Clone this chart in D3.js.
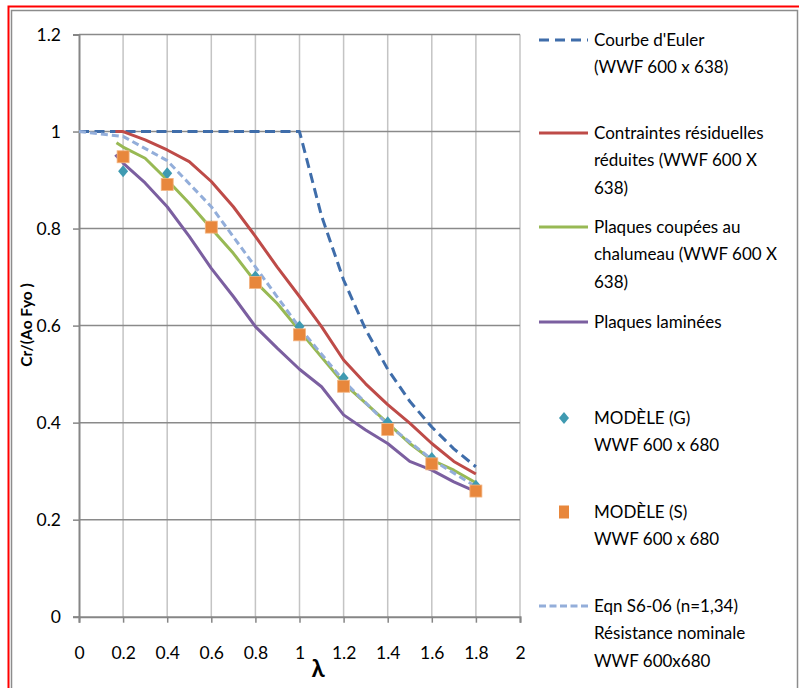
<!DOCTYPE html>
<html><head><meta charset="utf-8">
<script src="https://cdn.jsdelivr.net/npm/d3@7"></script>
<style>
html,body{margin:0;padding:0;background:#fff;}
text{font-family:Lato,"Open Sans",sans-serif;fill:#000;}
</style></head>
<body>
<svg id="chart" width="799" height="688"></svg>
<script>
// ---- data ----
const xTicks = [0,0.2,0.4,0.6,0.8,1,1.2,1.4,1.6,1.8,2];
const yTicks = [0,0.2,0.4,0.6,0.8,1,1.2];
const xTickLabels = ["0","0.2","0.4","0.6","0.8","1","1.2","1.4","1.6","1.8","2"];
const yTickLabels = ["0","0.2","0.4","0.6","0.8","1","1.2"];

const eulerX = [0,0.2,0.4,0.6,0.8,1.0,1.1,1.2,1.3,1.4,1.5,1.6,1.7,1.8];
const eulerY = [1,1,1,1,1,1,0.826,0.694,0.592,0.510,0.444,0.391,0.346,0.309];

const redX = [0.165,0.2,0.3,0.4,0.5,0.6,0.7,0.8,0.9,1.0,1.1,1.2,1.3,1.4,1.5,1.6,1.7,1.8];
const redY = [1.0,1.0,0.983,0.962,0.938,0.897,0.845,0.784,0.72,0.66,0.598,0.529,0.48,0.437,0.399,0.357,0.32,0.294];

const greenX = [0.17,0.2,0.3,0.4,0.5,0.6,0.7,0.8,0.9,1.0,1.1,1.2,1.3,1.4,1.5,1.6,1.7,1.8];
const greenY = [0.977,0.968,0.945,0.90,0.852,0.80,0.749,0.69,0.645,0.59,0.535,0.481,0.44,0.399,0.357,0.323,0.302,0.276];

const purpleX = [0.165,0.2,0.3,0.4,0.5,0.6,0.7,0.8,0.9,1.0,1.1,1.2,1.3,1.4,1.5,1.6,1.7,1.8];
const purpleY = [0.952,0.935,0.894,0.845,0.784,0.718,0.66,0.598,0.553,0.51,0.474,0.416,0.385,0.357,0.32,0.302,0.278,0.258];

const modelGX = [0.2,0.4,0.6,0.8,1.0,1.2,1.4,1.6,1.8];
const modelGY = [0.918,0.914,0.805,0.701,0.598,0.492,0.401,0.327,0.27];

const modelSX = [0.2,0.4,0.6,0.8,1.0,1.2,1.4,1.6,1.8];
const modelSY = [0.948,0.891,0.803,0.689,0.581,0.475,0.386,0.315,0.259];

const eqnX = [0,0.2,0.4,0.6,0.8,1.0,1.2,1.4,1.6,1.8];
const eqnY = [1.0,0.990,0.940,0.845,0.721,0.596,0.486,0.396,0.324,0.268];

const legendLabels = [
  ["Courbe d'Euler","(WWF 600 x 638)"],
  ["Contraintes résiduelles","réduites (WWF 600 X","638)"],
  ["Plaques coupées au","chalumeau (WWF 600 X","638)"],
  ["Plaques laminées"],
  ["MODÈLE (G)","WWF 600 x 680"],
  ["MODÈLE (S)","WWF 600 x 680"],
  ["Eqn S6-06 (n=1,34)","Résistance nominale","WWF 600x680"]
];

// ---- styles ----
const C = {
  euler:"#3F6DAA", red:"#BE4B48", green:"#98B954", purple:"#7B5FA0",
  teal:"#3F9AB1", orange:"#E8873C", eqn:"#93AEDA"
};

const svg = d3.select("#chart");
// outer frame
svg.append("rect").attr("x",11.5).attr("y",10.5).attr("width",786).attr("height",690)
  .attr("fill","#fff").attr("stroke","#8c8c8c").attr("stroke-width",1.5);
svg.append("rect").attr("x",8.5).attr("y",6.5).attr("width",800).attr("height",700)
  .attr("fill","none").attr("stroke","#f00").attr("stroke-width",2);

const x = d3.scaleLinear().domain([0,2]).range([79,520]);
const y = d3.scaleLinear().domain([0,1.2]).range([616.7,34.5]);

// gridlines
const g = svg.append("g");
g.selectAll(".vg").data(xTicks.slice(1)).join("line")
  .attr("x1",d=>x(d)).attr("x2",d=>x(d)).attr("y1",y(0)).attr("y2",y(1.2))
  .attr("stroke","#c4c4c4").attr("stroke-width",1.5);
g.selectAll(".hg").data(yTicks.slice(1)).join("line")
  .attr("x1",x(0)).attr("x2",x(2)).attr("y1",d=>y(d)).attr("y2",d=>y(d))
  .attr("stroke","#8a8a8a").attr("stroke-width",1.5);

// axes
const xAxis = d3.axisBottom(x).tickValues(xTicks).tickFormat((d,i)=>xTickLabels[i]).tickSize(6).tickPadding(24);
const yAxis = d3.axisLeft(y).tickValues(yTicks).tickFormat((d,i)=>yTickLabels[i]).tickSize(6).tickPadding(12);
const gx = svg.append("g").attr("transform",`translate(0,${y(0)})`).call(xAxis);
const gy = svg.append("g").attr("transform",`translate(${x(0)},0)`).call(yAxis);
[gx,gy].forEach(a=>{
  a.selectAll("path").attr("stroke","#868686").attr("stroke-width",2);
  a.selectAll("line").attr("stroke","#868686").attr("stroke-width",1.5);
  a.selectAll("text").attr("font-family","Lato, sans-serif").attr("font-size",17.5).attr("fill","#000");
});

// axis titles
svg.append("text").attr("x",318).attr("y",677).attr("text-anchor","middle")
  .attr("font-size",24).attr("font-weight","bold").text("λ");
svg.append("text").attr("transform","translate(32,325) rotate(-90)").attr("text-anchor","middle")
  .attr("font-size",15.5).attr("font-weight","bold").text("Cr/(Ao Fyo )");

const line = d3.line().x(d=>x(d[0])).y(d=>y(d[1]));
const zip = (a,b)=>a.map((v,i)=>[v,b[i]]);

function drawLine(xs,ys,color,dash,w){
  svg.append("path").datum(zip(xs,ys)).attr("d",line).attr("fill","none")
    .attr("stroke",color).attr("stroke-width",w).attr("stroke-dasharray",dash||null)
    .attr("stroke-linejoin","round");
}
drawLine(eulerX,eulerY,C.euler,"10,5.5",3);
drawLine(redX,redY,C.red,null,3);
drawLine(greenX,greenY,C.green,null,3);
drawLine(purpleX,purpleY,C.purple,null,3);
drawLine(eqnX,eqnY,C.eqn,"7,4",3);

const diamond = (cx,cy,w,h)=>`M${cx},${cy-h/2}L${cx+w/2},${cy}L${cx},${cy+h/2}L${cx-w/2},${cy}Z`;
svg.selectAll(".dm").data(zip(modelGX,modelGY)).join("path")
  .attr("d",d=>diamond(x(d[0]),y(d[1]),10,12)).attr("fill",C.teal);
svg.selectAll(".sq").data(zip(modelSX,modelSY)).join("rect")
  .attr("x",d=>x(d[0])-6).attr("y",d=>y(d[1])-6).attr("width",12).attr("height",12)
  .attr("fill",C.orange).attr("stroke","#f3b582").attr("stroke-width",0.8);

// legend
const legY = [40,133,227,322,418,512,606];
const lg = svg.append("g");
const LX1=539, LX2=588, TX=594, LH=27.5;
legendLabels.forEach((lines,i)=>{
  const cy = legY[i];
  if(i===0) lg.append("line").attr("x1",LX1).attr("x2",LX2).attr("y1",cy).attr("y2",cy)
      .attr("stroke",C.euler).attr("stroke-width",3).attr("stroke-dasharray","10,6");
  if(i===1) lg.append("line").attr("x1",LX1).attr("x2",LX2).attr("y1",cy).attr("y2",cy).attr("stroke",C.red).attr("stroke-width",3);
  if(i===2) lg.append("line").attr("x1",LX1).attr("x2",LX2).attr("y1",cy).attr("y2",cy).attr("stroke",C.green).attr("stroke-width",3);
  if(i===3) lg.append("line").attr("x1",LX1).attr("x2",LX2).attr("y1",cy).attr("y2",cy).attr("stroke",C.purple).attr("stroke-width",3);
  if(i===4) lg.append("path").attr("d",diamond(564,cy,10,12)).attr("fill",C.teal);
  if(i===5) lg.append("rect").attr("x",559).attr("y",cy-6.5).attr("width",10).attr("height",13).attr("fill",C.orange);
  if(i===6) lg.append("line").attr("x1",LX1).attr("x2",LX2).attr("y1",cy).attr("y2",cy)
      .attr("stroke",C.eqn).attr("stroke-width",3).attr("stroke-dasharray","7,3.5");
  lines.forEach((t,j)=>{
    lg.append("text").attr("x",TX).attr("y",cy+j*LH).attr("dy","0.35em")
      .attr("font-size",17).text(t);
  });
});
</script>
</body></html>
